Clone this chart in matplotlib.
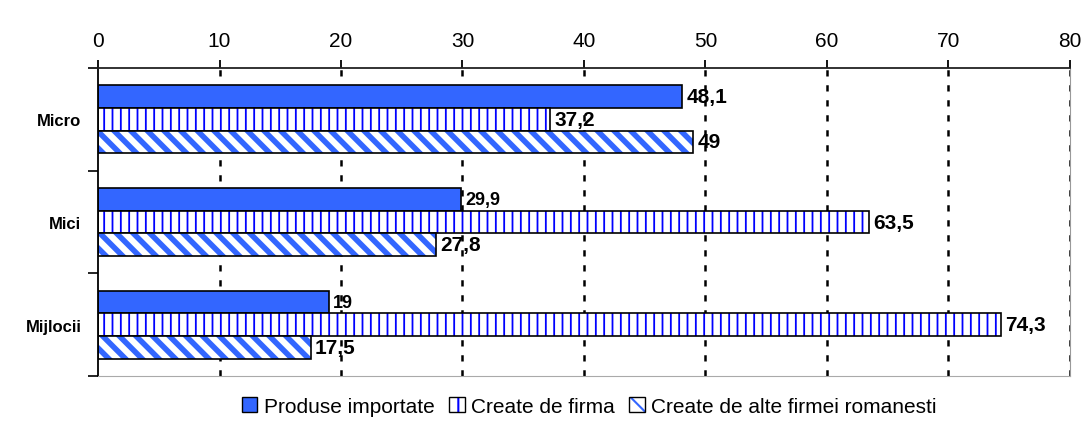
import numpy as np
import matplotlib.pyplot as plt
from matplotlib.patches import Patch

categorii = ["Micro", "Mici", "Mijlocii"]
produse_importate = [48.1, 29.9, 19]
create_de_firma = [37.2, 63.5, 74.3]
create_alte_firme = [49, 27.8, 17.5]
etichete_importate = ["48,1", "29,9", "19"]
etichete_firma = ["37,2", "63,5", "74,3"]
etichete_alte = ["49", "27,8", "17,5"]

albastru = "#3366FF"
plt.rcParams['font.family'] = ['Liberation Sans', 'DejaVu Sans']

fig = plt.figure(figsize=(10.81, 4.35), dpi=100)
ax = fig.add_axes([0.0907, 0.1333, 0.899, 0.708])

y = np.arange(len(categorii))
h = 0.22

# cele trei serii
plt.rcParams['hatch.linewidth'] = 1.3
b1 = ax.barh(y - h, produse_importate, height=h, color=albastru, edgecolor="black", linewidth=1.2)
b2 = ax.barh(y, create_de_firma, height=h, color="white", edgecolor="black", linewidth=1.2, hatch="||")
plt.rcParams['hatch.linewidth'] = 4.0
b3 = ax.barh(y + h, create_alte_firme, height=h, color="white", edgecolor="black", linewidth=1.2, hatch="\\\\")
for p in b2:
    p._hatch_color = (0, 0, 1, 1)
for p in b3:
    p._hatch_color = (0.2, 0.4, 1, 1)

for bare, etichete, mari in [(b1, etichete_importate, [True, False, False]),
                             (b2, etichete_firma, [True, True, True]),
                             (b3, etichete_alte, [True, True, True])]:
    for bar, txt, mare in zip(bare, etichete, mari):
        ax.text(bar.get_width() + 0.35, bar.get_y() + bar.get_height() / 2, txt,
                va="center", ha="left", fontsize=15 if mare else 13, fontweight="bold")

ax.set_xlim(0, 80)
ax.set_ylim(2.5, -0.5)
ax.xaxis.tick_top()
ax.set_xticks(range(0, 81, 10))
ax.tick_params(axis="x", labelsize=15, length=6, width=1.3, color="black", pad=7)
ax.set_yticks(y)
ax.set_yticklabels(categorii, fontsize=12, fontweight="bold")
ax.set_yticks([-0.5, 0.5, 1.5, 2.5], minor=True)
ax.tick_params(axis="y", which="major", length=0, pad=12)
ax.tick_params(axis="y", which="minor", length=7, width=1.2, color="black")

for x in range(10, 81, 10):
    ax.axvline(x, color="black", linestyle=(0, (2.5, 3.5)), linewidth=1.8, zorder=0)

ax.spines["top"].set_color("#222222")
ax.spines["top"].set_linewidth(1.3)
ax.spines["right"].set_color("#999999")
ax.spines["bottom"].set_color("#aaaaaa")
ax.spines["left"].set_color("black")
ax.spines["left"].set_linewidth(1.3)

plt.rcParams['hatch.linewidth'] = 1.5
handles = [
    Patch(facecolor=albastru, edgecolor="black", label="Produse importate"),
    Patch(facecolor="white", edgecolor="black", label="Create de firma"),
    Patch(facecolor="white", edgecolor="black", label="Create de alte firmei romanesti"),
]
leg = fig.legend(handles=handles, loc="center", bbox_to_anchor=(0.545, 0.063), ncol=3, frameon=False,
                 fontsize=15, handlelength=0.75, handleheight=0.75, handletextpad=0.3, columnspacing=0.7)
fig.canvas.draw()
# marcaje in legenda
hp = leg.legend_handles
hp[1].set_hatch("|")
hp[1]._hatch_color = (0, 0, 1, 1)
hp[2].set_hatch("\\")
hp[2]._hatch_color = (0.2, 0.4, 1, 1)

fig.savefig("out.png", dpi=100)
